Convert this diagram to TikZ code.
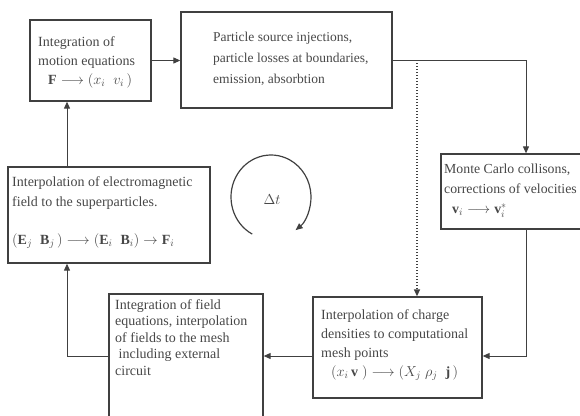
\documentclass[tikz,border=0pt]{standalone}
\usepackage{fontspec}
\setmainfont{Liberation Serif}
\usetikzlibrary{arrows.meta,fit}
\begin{document}
\begin{tikzpicture}[x=1pt,y=-1pt,
  box/.style={draw=black!75,line width=1.3pt,inner sep=0pt,rectangle},
  txt/.style={anchor=north west,inner sep=0pt,align=left,text=black!72,font=\fontsize{14}{19}\selectfont},
  arr/.style={draw=black!75,line width=1pt,-{Triangle[length=7pt,width=6pt]}},
  ln/.style={draw=black!75,line width=1pt}]
\useasboundingbox (0,0) rectangle (580,415);
\clip (0,0) rectangle (580,415);
% boxes
\node[box,fit={(30,20) (151,101)}] (A) {};
\node[box,fit={(181,12) (392,108)}] (B) {};
\node[box,fit={(441,154) (611,229)}] (C) {};
\node[box,fit={(313,297) (482,398)}] (E) {};
\node[box,fit={(109,294) (263,418)}] (D) {};
\node[box,fit={(8,167) (210,263)}] (F) {};
% texts
\node[txt] (tA) at (38,36) {Integration of\\motion equations\\\hspace{10pt}$\mathbf{F}\longrightarrow(x_i\;\;v_i\,)$};
\node[txt,font=\fontsize{13.5}{21}\selectfont] (tB) at (213,32) {Particle source injections,\\particle losses at boundaries,\\emission, absorbtion};
\node[txt,font=\fontsize{13.8}{20}\selectfont] (tC) at (444,164) {Monte Carlo collisons,\\corrections of velocities\\\hspace{8pt}$\mathbf{v}_i\longrightarrow\mathbf{v}_i^{*}$};
\node[txt,font=\fontsize{14}{20}\selectfont] (tF) at (12,176) {Interpolation of electromagnetic\\field to the superparticles.\\[18pt]$(\mathbf{E}_j\;\;\mathbf{B}_j\,)\longrightarrow(\mathbf{E}_i\;\;\mathbf{B}_i)\rightarrow\mathbf{F}_i$};
\node[txt] (tE) at (321,309) {Interpolation of charge\\densities to computational\\mesh points\\\hspace{10pt}$(x_i\,\mathbf{v}\;)\longrightarrow(X_j\;\rho_j\;\;\mathbf{j}\,)$};
\node[txt,font=\fontsize{14}{16.5}\selectfont] (tD) at (115,299) {Integration of field\\equations, interpolation\\of fields to the mesh\\\ including external\\circuit};
\node[text=black!72,font=\fontsize{14}{16}\selectfont,inner sep=0pt] (dt) at (272,200) {$\Delta t$};
% connectors
\coordinate (dtop) at (417,60);
\coordinate (colx) at (67,0);
\draw[arr] (A.east) -- (A.east -| B.west);
\draw[arr] (B.east) -| (C.north);
\draw[arr,dotted,line width=1.3pt] (dtop) -- (dtop |- E.north);
\draw[arr] (C.south) |- (E.east |- D.east);
\draw[arr] (E.west |- D.east) -- (D.east);
\draw[arr] (D.west) -| (F.south -| colx);
\draw[arr] (F.north -| colx) -- (A.south -| colx);
% cycle arrow
\draw[arr,line width=1.2pt] (271,197) ++(118:40 and 42) arc[start angle=118,end angle=412,x radius=40,y radius=42];
\end{tikzpicture}
\end{document}
